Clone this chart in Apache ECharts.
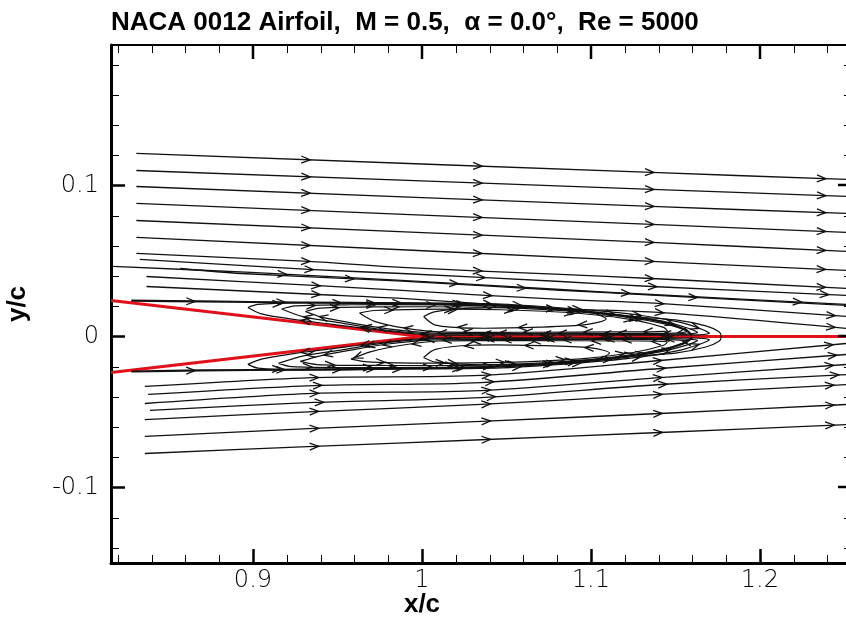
<!DOCTYPE html>
<html>
<head>
<meta charset="utf-8">
<script src="https://cdn.jsdelivr.net/npm/echarts@6/dist/echarts.min.js"></script>
<style>
  html, body { margin: 0; padding: 0; background: #fff; overflow: hidden; }
  #chart { width: 846px; height: 625px; }
</style>
</head>
<body>
<div id="chart"></div>
<script>
// axis ticks
const xMajorTicks = [0.9, 1.0, 1.1, 1.2];
const xMinorTicks = [0.82, 0.84, 0.86, 0.88, 0.92, 0.94, 0.96, 0.98, 1.02, 1.04, 1.06, 1.08, 1.12, 1.14, 1.16, 1.18, 1.22, 1.24];
const yMajorTicks = [-0.1, 0, 0.1];
const yMinorTicks = [-0.14, -0.12, -0.08, -0.06, -0.04, -0.02, 0.02, 0.04, 0.06, 0.08, 0.12, 0.14, 0.16, 0.18];

// airfoil surface and wake centre line (red)
const airfoilUpper = [[0.816, 0.0238], [0.908, 0.0119], [1.0, 0.0]];
const airfoilLower = [[0.816, -0.0238], [0.908, -0.0119], [1.0, 0.0]];
const wakeCenter = [[1.0, 0.0], [1.2545, 0.0]];

// streamlines above the wake
const upperOuter = [
  [[0.831, 0.1212], [1.136, 0.1086], [1.2515, 0.1040]],
  [[0.831, 0.1099], [1.136, 0.0974], [1.2515, 0.0927]],
  [[0.831, 0.0993], [1.136, 0.0861], [1.2515, 0.0815]],
  [[0.831, 0.0881], [1.136, 0.0742], [1.2515, 0.0689]],
  [[0.831, 0.0768], [1.136, 0.0623], [1.2515, 0.0563]],
  [[0.831, 0.0656], [1.136, 0.0497], [1.2515, 0.0437]]
];
const upperNear = [
  [[0.831, 0.0550], [0.933, 0.0497], [0.988, 0.0457], [1.082, 0.0411], [1.136, 0.0384], [1.2515, 0.0318]],
  [[0.833, 0.0510], [0.933, 0.0444], [0.988, 0.0417], [1.082, 0.0364], [1.136, 0.0331], [1.2515, 0.0272]],
  [[0.817, 0.0464], [0.899, 0.0424], [0.988, 0.0371], [1.082, 0.0311], [1.136, 0.0278], [1.2515, 0.0212]],
  [[0.857, 0.0450], [0.893, 0.0417], [0.988, 0.0366], [1.082, 0.0306], [1.136, 0.0274], [1.2515, 0.0205]],
  [[0.837, 0.0397], [0.936, 0.0338], [0.988, 0.0305], [1.082, 0.0245], [1.140, 0.0219], [1.2515, 0.0132]],
  [[0.837, 0.0331], [0.939, 0.0278], [0.988, 0.0252], [1.082, 0.0185], [1.140, 0.0159], [1.2515, 0.0053]]
];
// streamlines below the wake
const lowerOuter = [
  [[0.836, -0.0331], [0.936, -0.0272], [1.035, -0.0258], [1.141, -0.0159], [1.2515, -0.0046]],
  [[0.838, -0.0384], [0.936, -0.0325], [1.035, -0.0305], [1.141, -0.0212], [1.2515, -0.0119]],
  [[0.836, -0.0444], [0.936, -0.0377], [1.035, -0.0358], [1.141, -0.0272], [1.2515, -0.0185]],
  [[0.839, -0.0490], [0.936, -0.0437], [1.035, -0.0405], [1.141, -0.0318], [1.2515, -0.0252]],
  [[0.836, -0.0550], [0.936, -0.0497], [1.035, -0.0450], [1.141, -0.0384], [1.2515, -0.0318]],
  [[0.836, -0.0662], [0.936, -0.0609], [1.035, -0.0562], [1.141, -0.0510], [1.2515, -0.0450]],
  [[0.836, -0.0775], [0.936, -0.0728], [1.035, -0.0684], [1.141, -0.0636], [1.2515, -0.0583]]
];
// dividing streamlines around the separation bubble
const separatrix = [
  [[0.828, 0.0238], [0.869, 0.0232], [0.928, 0.0225], [0.988, 0.0219], [1.035, 0.0212], [1.082, 0.0180], [1.118, 0.0139], [1.141, 0.0099], [1.156, 0.0045], [1.160, 0.0005]],
  [[0.828, -0.0232], [0.869, -0.0225], [0.928, -0.0219], [0.988, -0.0212], [1.035, -0.0205], [1.082, -0.0174], [1.118, -0.0139], [1.141, -0.0093], [1.156, -0.0040], [1.160, -0.0005]]
];
// recirculation loops
const upperBubble = [
  [[0.897, 0.0192], [0.903, 0.0212], [0.928, 0.0222], [0.988, 0.0222], [1.047, 0.0215], [1.094, 0.0179], [1.130, 0.0139], [1.153, 0.0093], [1.166, 0.0046], [1.170, 0.0020],
   [1.160, 0.0010], [1.100, 0.0010], [1.040, 0.0010], [1.002, 0.0012], [0.976, 0.0040], [0.946, 0.0082], [0.923, 0.0115], [0.905, 0.0150], [0.897, 0.0192]],
  [[0.917, 0.0182], [0.925, 0.0203], [0.958, 0.0210], [1.017, 0.0208], [1.070, 0.0190], [1.110, 0.0152], [1.140, 0.0106], [1.158, 0.0053], [1.163, 0.0025],
   [1.150, 0.0015], [1.090, 0.0015], [1.030, 0.0015], [1.003, 0.0018], [0.976, 0.0046], [0.952, 0.0090], [0.930, 0.0130], [0.917, 0.0182]],
  [[0.931, 0.0165], [0.940, 0.0188], [0.976, 0.0196], [1.035, 0.0194], [1.082, 0.0172], [1.118, 0.0133], [1.145, 0.0080], [1.157, 0.0035],
   [1.150, 0.0022], [1.090, 0.0020], [1.030, 0.0020], [1.004, 0.0024], [0.980, 0.0050], [0.958, 0.0090], [0.940, 0.0130], [0.931, 0.0165]],
  [[0.963, 0.0155], [0.972, 0.0172], [1.000, 0.0180], [1.047, 0.0177], [1.094, 0.0152], [1.125, 0.0110], [1.143, 0.0060], [1.145, 0.0035],
   [1.120, 0.0030], [1.060, 0.0028], [1.010, 0.0030], [0.990, 0.0055], [0.972, 0.0100], [0.963, 0.0155]],
  [[1.001, 0.0132], [1.008, 0.0165], [1.030, 0.0188], [1.070, 0.0190], [1.098, 0.0166], [1.109, 0.0115], [1.098, 0.0080], [1.070, 0.0062], [1.030, 0.0055], [1.008, 0.0075], [1.001, 0.0132]]
];
const lowerBubble = [
  [[0.897, -0.0185], [0.903, -0.0210], [0.928, -0.0222], [0.988, -0.0215], [1.047, -0.0208], [1.094, -0.0175], [1.130, -0.0135], [1.153, -0.0090], [1.166, -0.0045], [1.170, -0.0020],
   [1.160, -0.0010], [1.100, -0.0010], [1.040, -0.0010], [1.002, -0.0012], [0.976, -0.0040], [0.946, -0.0082], [0.923, -0.0115], [0.905, -0.0150], [0.897, -0.0185]],
  [[0.915, -0.0178], [0.923, -0.0200], [0.958, -0.0206], [1.017, -0.0204], [1.070, -0.0186], [1.110, -0.0150], [1.140, -0.0104], [1.158, -0.0052], [1.163, -0.0025],
   [1.150, -0.0015], [1.090, -0.0015], [1.030, -0.0015], [1.003, -0.0018], [0.976, -0.0046], [0.952, -0.0090], [0.930, -0.0128], [0.915, -0.0178]],
  [[0.928, -0.0165], [0.938, -0.0186], [0.976, -0.0192], [1.035, -0.0190], [1.082, -0.0168], [1.118, -0.0130], [1.145, -0.0078], [1.157, -0.0035],
   [1.150, -0.0022], [1.090, -0.0020], [1.030, -0.0020], [1.004, -0.0024], [0.980, -0.0050], [0.958, -0.0090], [0.940, -0.0128], [0.928, -0.0165]],
  [[0.958, -0.0150], [0.968, -0.0168], [1.000, -0.0176], [1.047, -0.0172], [1.094, -0.0148], [1.125, -0.0106], [1.143, -0.0058], [1.145, -0.0035],
   [1.120, -0.0030], [1.060, -0.0028], [1.010, -0.0030], [0.990, -0.0055], [0.970, -0.0100], [0.958, -0.0150]],
  [[1.001, -0.0139], [1.008, -0.0170], [1.030, -0.0186], [1.070, -0.0185], [1.100, -0.0160], [1.111, -0.0110], [1.100, -0.0075], [1.070, -0.0060], [1.030, -0.0058], [1.008, -0.0085], [1.001, -0.0139]]
];
const closureLine = [
  [[1.120, 0.0132], [1.150, 0.0110], [1.168, 0.0070], [1.176, 0.0030], [1.177, 0.0], [1.176, -0.0030], [1.168, -0.0070], [1.150, -0.0110], [1.120, -0.0132]]
];

const fmt = v => String(Math.round(v * 100) / 100);

function addArrows(children, pts, first, gap, width) {
  if (!gap) return;
  let acc = 0, next = first;
  for (let i = 1; i < pts.length; i++) {
    const dx = pts[i][0] - pts[i - 1][0], dy = pts[i][1] - pts[i - 1][1];
    const len = Math.hypot(dx, dy);
    if (len === 0) continue;
    const ux = dx / len, uy = dy / len;
    while (next <= acc + len) {
      const t = (next - acc) / len;
      const tx = pts[i - 1][0] + dx * t + ux * 4, ty = pts[i - 1][1] + dy * t + uy * 4;
      const bx = tx - ux * 9, by = ty - uy * 9;
      children.push({
        type: 'polyline',
        shape: { points: [[bx - uy * 3.5, by + ux * 3.5], [tx, ty], [bx + uy * 3.5, by - ux * 3.5]] },
        style: { stroke: '#111', lineWidth: width, fill: null }
      });
      next += gap;
    }
    acc += len;
  }
}

function streamSeries(lines, width, first, gap) {
  return {
    type: 'custom',
    xAxisIndex: 0,
    yAxisIndex: 0,
    silent: true,
    z: 3,
    data: lines.map((l, i) => [i]),
    renderItem: function (params, api) {
      const pts = lines[params.dataIndex].map(p => api.coord(p));
      const children = [{
        type: 'polyline',
        shape: { points: pts, smooth: 0.3 },
        style: { stroke: '#111', lineWidth: width, fill: null }
      }];
      addArrows(children, pts, first, gap, 1.3);
      return { type: 'group', children: children };
    }
  };
}

// top and right frame edges, their major ticks, and minor ticks on all four sides
const frameTickSeries = {
  type: 'custom',
  xAxisIndex: 0,
  yAxisIndex: 0,
  silent: true,
  z: 5,
  data: [[0]],
  renderItem: function (params, api) {
    const cs = params.coordSys;
    const children = [];
    const thin = { stroke: '#000', lineWidth: 1 };
    const heavy = { stroke: '#000', lineWidth: 2.5 };
    const rx = cs.x + cs.width, by = cs.y + cs.height;
    children.push({ type: 'line', shape: { x1: cs.x, y1: cs.y, x2: rx, y2: cs.y }, style: { stroke: '#000', lineWidth: 2 } });
    children.push({ type: 'line', shape: { x1: rx, y1: cs.y, x2: rx, y2: by }, style: { stroke: '#000', lineWidth: 2 } });
    xMinorTicks.forEach(v => {
      const px = Math.round(api.coord([v, 0])[0]) + 0.5;
      children.push({ type: 'line', shape: { x1: px, y1: by, x2: px, y2: by - 8 }, style: thin });
      children.push({ type: 'line', shape: { x1: px, y1: cs.y, x2: px, y2: cs.y + 8 }, style: thin });
    });
    xMajorTicks.forEach(v => {
      const px = Math.round(api.coord([v, 0])[0]);
      children.push({ type: 'line', shape: { x1: px, y1: cs.y, x2: px, y2: cs.y + 14 }, style: heavy });
    });
    yMinorTicks.forEach(v => {
      const py = Math.round(api.coord([1, v])[1]) + 0.5;
      children.push({ type: 'line', shape: { x1: cs.x, y1: py, x2: cs.x + 8, y2: py }, style: thin });
      children.push({ type: 'line', shape: { x1: rx, y1: py, x2: rx - 8, y2: py }, style: thin });
    });
    yMajorTicks.forEach(v => {
      const py = Math.round(api.coord([1, v])[1]);
      children.push({ type: 'line', shape: { x1: rx, y1: py, x2: rx - 14, y2: py }, style: heavy });
    });
    return { type: 'group', children: children };
  }
};

function redSeries(data) {
  return {
    type: 'line', data: data, xAxisIndex: 0, yAxisIndex: 0, z: 2, silent: true,
    showSymbol: false, symbol: 'none',
    lineStyle: { color: '#e3101a', width: 3 }
  };
}

const labelFont = { fontFamily: 'DejaVu Sans', fontWeight: 200, fontSize: 24, color: '#000' };

const chart = echarts.init(document.getElementById('chart'), null, { renderer: 'canvas' });
chart.setOption({
  animation: false,
  backgroundColor: '#fff',
  title: {
    text: 'NACA 0012 Airfoil,  M = 0.5,  \u03b1 = 0.0\u00b0,  Re = 5000',
    left: 106, top: 5,
    textStyle: { fontFamily: 'Liberation Sans', fontWeight: 'bold', fontSize: 26, color: '#000' }
  },
  // the frame's right edge sits just past the page edge, as in the original plot
  grid: { left: 111, right: -6, top: 45, bottom: 62, containLabel: false, outerBoundsMode: 'none' },
  graphic: [{
    type: 'text', x: 422, y: 605,
    style: { text: 'x/c', font: 'bold 26px "Liberation Sans"', fill: '#000', textAlign: 'center', verticalAlign: 'middle' }
  }],
  xAxis: [{
    type: 'value', min: 0.816, max: 1.2545, position: 'bottom',
    axisLine: { show: true, onZero: false, lineStyle: { color: '#000', width: 3 } },
    axisTick: { show: true, inside: true, customValues: xMajorTicks, length: 14, lineStyle: { color: '#000', width: 2.5 } },
    axisLabel: Object.assign({ customValues: xMajorTicks, formatter: fmt, margin: 6 }, labelFont),
    splitLine: { show: false }
  }],
  yAxis: [{
    type: 'value', min: -0.15, max: 0.193, position: 'left',
    axisLine: { show: true, onZero: false, lineStyle: { color: '#000', width: 3 } },
    axisTick: { show: true, inside: true, customValues: yMajorTicks, length: 14, lineStyle: { color: '#000', width: 2.5 } },
    axisLabel: Object.assign({ customValues: yMajorTicks, formatter: fmt, margin: 12 }, labelFont),
    splitLine: { show: false },
    name: 'y/c', nameLocation: 'middle', nameGap: 80,
    nameTextStyle: { fontFamily: 'Liberation Sans', fontWeight: 'bold', fontSize: 26, color: '#000' }
  }],
  series: [
    redSeries(airfoilUpper),
    redSeries(airfoilLower),
    redSeries(wakeCenter),
    streamSeries(upperOuter, 1.3, 170, 172),
    streamSeries(upperNear, 1.3, 170, 172),
    streamSeries(lowerOuter, 1.3, 170, 172),
    streamSeries(separatrix, 2.2, 60, 90),
    streamSeries(upperBubble, 1.2, 30, 60),
    streamSeries(lowerBubble, 1.2, 30, 60),
    streamSeries(closureLine, 1.2, 0, 0),
    frameTickSeries
  ]
});
</script>
</body>
</html>
